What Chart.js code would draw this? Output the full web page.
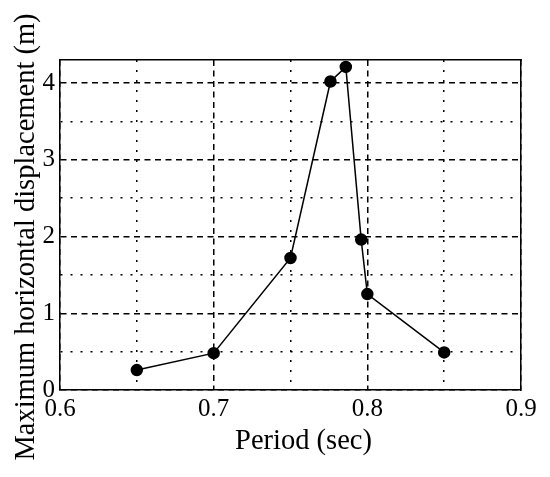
<!DOCTYPE html>
<html>
<head>
<meta charset="utf-8">
<script src="https://cdn.jsdelivr.net/npm/chart.js@4/dist/chart.umd.min.js"></script>
<style>
  html, body { margin: 0; padding: 0; background: #fff; }
  #wrap { width: 550px; height: 477px; }
</style>
</head>
<body>
<div id="wrap"><canvas id="c" width="550" height="477"></canvas></div>
<script>
const periods = [0.65, 0.70, 0.75, 0.776, 0.786, 0.796, 0.80, 0.85];
const displacements = [0.26, 0.48, 1.72, 4.02, 4.21, 1.96, 1.25, 0.49];

const xTickValues = [0.6, 0.65, 0.7, 0.75, 0.8, 0.85, 0.9];
const xTickLabels = ['0.6', '', '0.7', '', '0.8', '', '0.9'];
const yTickValues = [0, 0.5, 1, 1.5, 2, 2.5, 3, 3.5, 4];
const yTickLabels = ['0', '', '1', '', '2', '', '3', '', '4'];

const xTitle = 'Period (sec)';
const yTitle = 'Maximum horizontal displacement (m)';

const xRange = [0.6, 0.9];
const yRange = [0, 4.3];

const FONT = "'Liberation Serif', 'Times New Roman', serif";
const DASH_MAJOR = [6, 4.5];
const DASH_MINOR = [2, 8];

function gridDash(labels) {
  return (ctx) => {
    if (ctx.type !== 'tick') return [];
    return labels[ctx.index] === '' ? DASH_MINOR : DASH_MAJOR;
  };
}

// axis titles placed relative to the chart area (the original is slightly off-centre)
const axisTitles = {
  id: 'axisTitles',
  afterDraw(chart) {
    const { ctx, chartArea: a } = chart;
    ctx.save();
    ctx.fillStyle = '#000';
    ctx.font = '28.5px ' + FONT;
    ctx.textAlign = 'center';
    ctx.textBaseline = 'middle';
    ctx.fillText(xTitle, (a.left + a.right) / 2 + 13, a.bottom + 52);
    ctx.translate(a.left - 33, (a.top + a.bottom) / 2 + 12);
    ctx.rotate(-Math.PI / 2);
    ctx.fillText(yTitle, 0, 0);
    ctx.restore();
  }
};

new Chart(document.getElementById('c'), {
  type: 'scatter',
  data: {
    datasets: [{
      data: periods.map((p, i) => ({ x: p, y: displacements[i] })),
      showLine: true,
      borderColor: '#000',
      borderWidth: 1.5,
      backgroundColor: '#000',
      pointRadius: 5.5,
      pointHoverRadius: 5.5,
      pointBackgroundColor: '#000',
      pointBorderColor: '#000',
      tension: 0
    }]
  },
  plugins: [axisTitles],
  options: {
    responsive: false,
    animation: false,
    devicePixelRatio: 1,
    layout: { padding: { left: 0, right: 29, top: 60, bottom: 0 } },
    plugins: { legend: { display: false }, tooltip: { enabled: false } },
    scales: {
      x: {
        type: 'linear',
        position: 'bottom',
        min: xRange[0], max: xRange[1],
        afterBuildTicks: (s) => { s.ticks = xTickValues.map(v => ({ value: v })); },
        afterFit: (s) => { s.height = 87; },
        ticks: {
          autoSkip: false, maxRotation: 0,
          padding: 4,
          color: '#000',
          font: { family: FONT, size: 25 },
          callback: (v, i) => xTickLabels[i]
        },
        grid: { color: '#000', lineWidth: 1.5, drawTicks: false },
        border: { display: true, color: '#000', width: 1.5, dash: gridDash(xTickLabels) },
        title: { display: false }
      },
      y: {
        type: 'linear',
        position: 'left',
        min: yRange[0], max: yRange[1],
        afterBuildTicks: (s) => { s.ticks = yTickValues.map(v => ({ value: v })); },
        afterFit: (s) => { s.width = 60; },
        ticks: {
          autoSkip: false,
          padding: 5,
          color: '#000',
          font: { family: FONT, size: 25 },
          callback: (v, i) => yTickLabels[i]
        },
        grid: { color: '#000', lineWidth: 1.5, drawTicks: false },
        border: { display: true, color: '#000', width: 1.5, dash: gridDash(yTickLabels) },
        title: { display: false }
      },
      xTop: {
        type: 'linear', position: 'top', min: xRange[0], max: xRange[1],
        ticks: { display: false },
        grid: { display: false, drawTicks: false },
        border: { display: true, color: '#000', width: 1.5 },
        afterFit: (s) => { s.height = 0; }
      },
      yRight: {
        type: 'linear', position: 'right', min: yRange[0], max: yRange[1],
        ticks: { display: false },
        grid: { display: false, drawTicks: false },
        border: { display: true, color: '#000', width: 1.5 },
        afterFit: (s) => { s.width = 0; }
      }
    }
  }
});
</script>
</body>
</html>
